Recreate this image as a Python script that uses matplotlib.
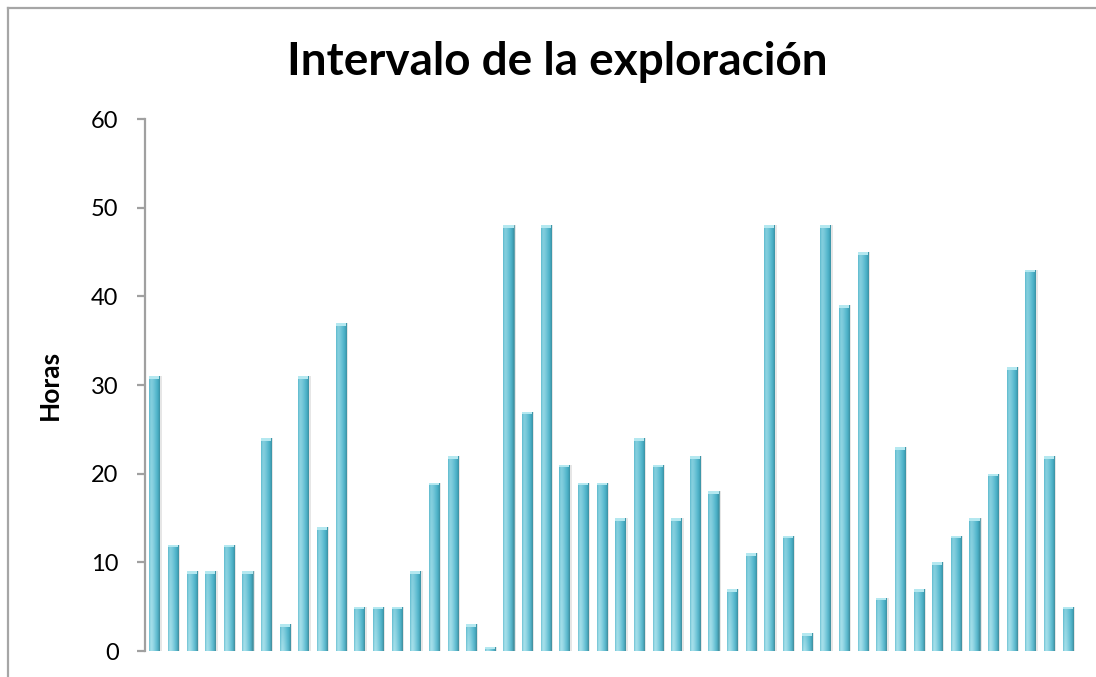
import numpy as np
import matplotlib.pyplot as plt
from matplotlib.lines import Line2D
from matplotlib.colors import to_rgb

plt.rcParams['font.family'] = ['Lato', 'DejaVu Sans']

# hours between explorations, one bar per interval
horas = [31, 12, 9, 9, 12, 9, 24, 3, 31, 14,
         37, 5, 5, 5, 9, 19, 22, 3, 0.5, 48,
         27, 48, 21, 19, 19, 15, 24, 21, 15, 22,
         18, 7, 11, 48, 13, 2, 48, 39, 45, 6,
         23, 7, 10, 13, 15, 20, 32, 43, 22, 5]
y_ticks = [0, 10, 20, 30, 40, 50, 60]
titulo = "Intervalo de la exploración"

# horizontal shading across a bar, left edge -> right edge
stops = ['#72c4d5', '#a8e1eb', '#9ddbe7', '#84cfdf', '#69c1d4', '#52afc4', '#428c9a']


def bar_gradient(ncols=32, nrows=64):
    pos = np.linspace(0, 1, len(stops))
    cols = np.array([to_rgb(c) for c in stops])
    xs = np.linspace(0, 1, ncols)
    row = np.stack([np.interp(xs, pos, cols[:, k]) for k in range(3)], axis=-1)
    # more saturated toward the bottom of the bar
    fy = np.linspace(0, 1, nrows)[:, None, None]
    bottom = row * 0.7 + np.array(to_rgb('#2aa2bd')) * 0.3
    img = row[None, :, :] * (1 - fy) + bottom[None, :, :] * fy
    return np.clip(img, 0, 1)


fig = plt.figure(figsize=(10.96, 6.77), dpi=100)
ax = fig.add_axes([145 / 1096, 1 - 651 / 677, 932 / 1096, 532 / 677])

x = np.arange(len(horas))
w = 0.54

# soft shadow to the right of each bar
ax.bar(x + 0.12, horas, width=w, color='#c8c8c8', alpha=0.45, zorder=1, linewidth=0)
bars = ax.bar(x, horas, width=w, color='#6cc3d5', edgecolor='#4a8e9b', linewidth=0.5, zorder=2)

img = bar_gradient()
for rect in bars:
    x0, h = rect.get_x(), rect.get_height()
    im = ax.imshow(img, extent=[x0, x0 + rect.get_width(), h, 0], origin='upper',
                   aspect='auto', interpolation='bilinear', zorder=3)
    im.set_clip_path(rect)
    # light cap on top
    cap = min(0.3, h * 0.5)
    ax.bar(rect.get_x() + rect.get_width() / 2, cap, bottom=h - cap, width=rect.get_width(),
           color='#b4e8f0', linewidth=0, zorder=4)

ax.set_xlim(-0.5, len(horas) - 0.5)
ax.set_ylim(0, 60)
ax.set_yticks(y_ticks)
ax.set_xticks([])

for s in ['top', 'right', 'bottom']:
    ax.spines[s].set_visible(False)
ax.spines['left'].set_color('#a0a0a0')
ax.spines['left'].set_linewidth(1.6)
ax.tick_params(axis='y', direction='out', length=6, width=1.6, color='#a0a0a0',
               labelsize=17, pad=13)

ax.set_ylabel('Horas', fontsize=19, fontweight='bold')
ax.yaxis.set_label_coords(-0.089, 0.5)

fig.text(557 / 1096, 1 - 75 / 677, titulo, ha='center', va='baseline',
         fontsize=33, fontweight='bold')

# chart area border (top and left)
fig.add_artist(Line2D([8 / 1096, 1], [1 - 8 / 677] * 2, color='#a6a6a6', lw=1.6))
fig.add_artist(Line2D([8 / 1096] * 2, [0, 1 - 8 / 677], color='#a6a6a6', lw=1.6))

fig.savefig('out.png', dpi=100)
